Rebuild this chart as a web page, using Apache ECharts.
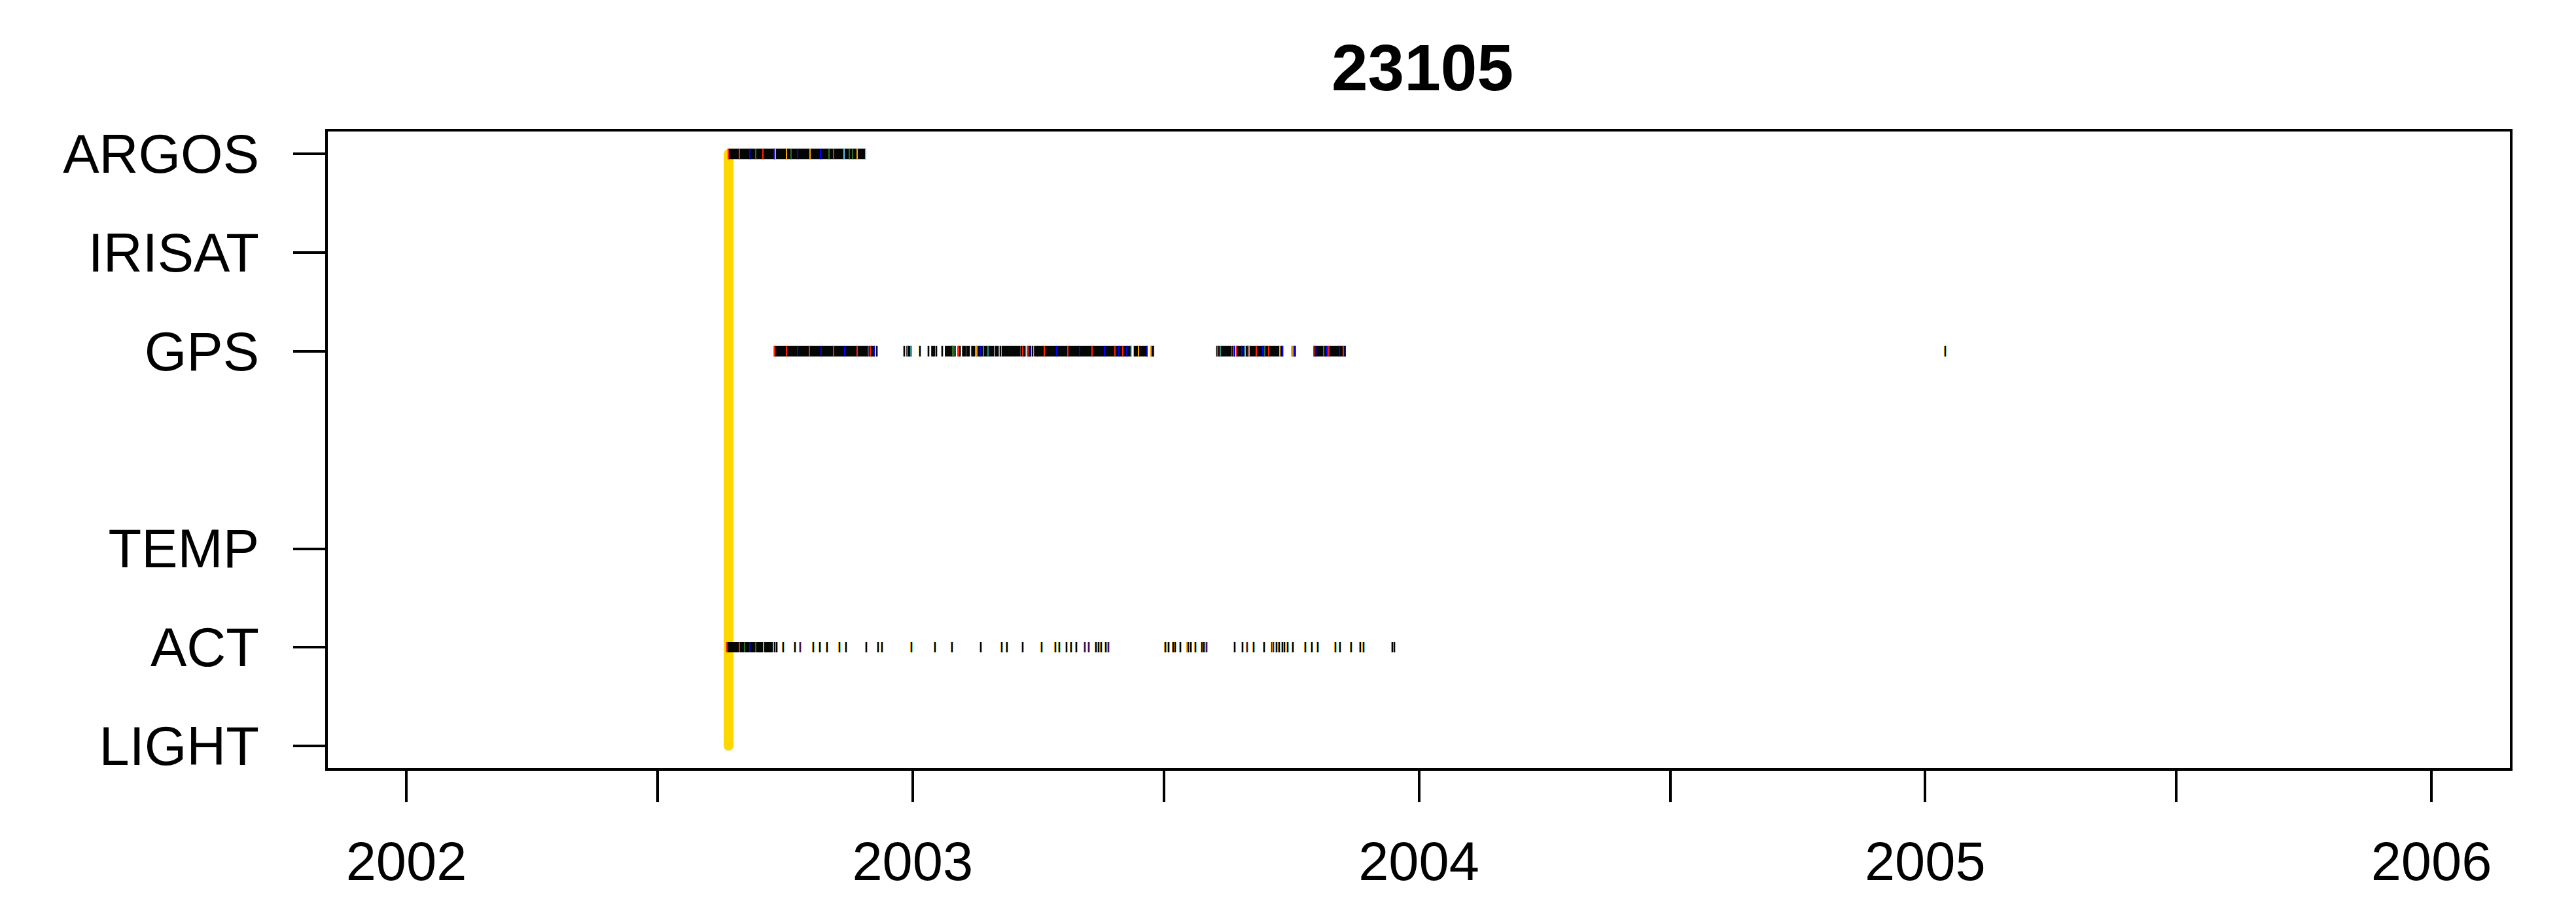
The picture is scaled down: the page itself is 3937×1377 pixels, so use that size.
<!DOCTYPE html>
<html>
<head>
<meta charset="utf-8">
<script src="https://cdn.jsdelivr.net/npm/echarts@6/dist/echarts.min.js"></script>
<style>
html,body{margin:0;padding:0;background:#fff;}
#chart{width:3937px;height:1377px;}
</style>
</head>
<body>
<div id="chart"></div>
<script>
// ---- data (decimal years) ----
const chartTitle = '23105';
const rowNames = ['LIGHT', 'ACT', 'TEMP', 'GPS', 'IRISAT', 'ARGOS'];
const rowLevels = [1, 2, 3, 5, 6, 7];
const yearLabels = [2002, 2003, 2004, 2005, 2006];
const tickYears = [2002, 2002.496, 2003, 2003.496, 2004, 2004.496, 2005, 2005.496, 2006];
const deployDate = 2002.6365;

// ARGOS (level 7)
const argosSpans = [[2002.636, 2002.907]];
const argosAccents = [
  [2002.636, 'r'], [2002.658, 'r'], [2002.679, 'b'], [2002.704, 'r'], [2002.726, 'b'],
  [2002.729, 'o'], [2002.751, 'o'], [2002.773, 'b'], [2002.798, 'o'], [2002.818, 'b'],
  [2002.844, 'r'], [2002.865, 'c'], [2002.890, 'o'], [2002.907, 'c'],
  [2002.690, 'g'], [2002.760, 'g'], [2002.835, 'g'], [2002.875, 'g'], [2002.882, 'g']
];

// GPS (level 5)
const gpsSpans = [
  [2002.727, 2002.912], [2002.915, 2002.924], [2002.989, 2002.997], [2003.038, 2003.043],
  [2003.065, 2003.076], [2003.077, 2003.084], [2003.090, 2003.094], [2003.099, 2003.104],
  [2003.107, 2003.112], [2003.117, 2003.122], [2003.126, 2003.160], [2003.164, 2003.169],
  [2003.177, 2003.201], [2003.203, 2003.211], [2003.214, 2003.222], [2003.227, 2003.233],
  [2003.241, 2003.246], [2003.247, 2003.295], [2003.297, 2003.304], [2003.306, 2003.432],
  [2003.438, 2003.463], [2003.471, 2003.476], [2003.601, 2003.629], [2003.632, 2003.636],
  [2003.640, 2003.652], [2003.654, 2003.662], [2003.665, 2003.693], [2003.695, 2003.731],
  [2003.750, 2003.756], [2003.793, 2003.818], [2003.821, 2003.849], [2003.851, 2003.854]
];
const gpsTicks = [
  [2002.929, 'k'], [2002.984, 'k'], [2003.015, 'k'], [2003.031, 'k'], [2003.047, 'k'],
  [2003.058, 'k'], [2003.174, 'k'], [2003.237, 'k'], [2005.040, 'k']
];
const gpsAccents = [
  [2002.727, 'r'], [2002.751, 'r'], [2002.773, 'b'], [2002.796, 'r'], [2002.819, 'b'],
  [2002.844, 'r'], [2002.866, 'b'], [2002.890, 'r'], [2002.911, 'b'], [2002.916, 'r'],
  [2002.924, 'b'], [2002.990, 'r'], [2002.996, 't'], [2003.079, 'g'], [2003.082, 'g'],
  [2003.091, 'r'], [2003.127, 'o'], [2003.134, 'b'], [2003.140, 't'], [2003.149, 't'],
  [2003.218, 'r'], [2003.228, 'r'], [2003.232, 'b'], [2003.260, 'r'], [2003.285, 'b'],
  [2003.307, 'r'], [2003.330, 'b'], [2003.354, 'r'], [2003.379, 'b'], [2003.400, 'r'],
  [2003.407, 'b'], [2003.415, 'r'], [2003.423, 'b'], [2003.432, 'c'], [2003.446, 'o'],
  [2003.463, 'b'], [2003.471, 'o'], [2003.476, 'b'], [2003.602, 'r'], [2003.608, 't'],
  [2003.633, 'r'], [2003.636, 'b'], [2003.640, 'r'], [2003.651, 'b'], [2003.657, 'c'],
  [2003.662, 'b'], [2003.665, 'o'], [2003.679, 'r'], [2003.692, 'b'], [2003.696, 'g'],
  [2003.703, 'r'], [2003.726, 'o'], [2003.731, 'b'], [2003.751, 'o'], [2003.755, 'b'],
  [2003.793, 'r'], [2003.796, 'b'], [2003.812, 'y'], [2003.817, 'b'], [2003.822, 'r'],
  [2003.843, 'b'], [2003.851, 'r'], [2003.854, 'b']
];

// ACT (level 2)
const actSpans = [[2002.633, 2002.725]];
const actAccents = [
  [2002.633, 'r'], [2002.658, 'r'], [2002.679, 'b'], [2002.705, 'o'], [2002.725, 'c'],
  [2002.668, 'g'], [2002.690, 'g']
];
const actTicks = [
  [2002.728, 'k'], [2002.732, 'k'], [2002.745, 'k'], [2002.768, 'k'], [2002.778, 'p'],
  [2002.804, 'k'], [2002.817, 'k'], [2002.831, 'k'], [2002.856, 'k'], [2002.868, 'k'],
  [2002.908, 'k'], [2002.932, 'k'], [2002.939, 'k'], [2002.998, 'k'], [2003.044, 'k'],
  [2003.078, 'k'], [2003.135, 'k'], [2003.176, 'k'], [2003.187, 'k'], [2003.218, 'k'],
  [2003.255, 'k'], [2003.282, 'k'], [2003.290, 'k'], [2003.304, 'k'], [2003.313, 'k'],
  [2003.323, 'k'], [2003.340, 'p'], [2003.348, 'p'], [2003.362, 'k'], [2003.367, 'k'],
  [2003.373, 'k'], [2003.382, 'k'], [2003.387, 'p'], [2003.499, 'k'], [2003.504, 'k'],
  [2003.506, 'k'], [2003.515, 'k'], [2003.519, 'k'], [2003.529, 'k'], [2003.543, 'k'],
  [2003.545, 'k'], [2003.550, 'k'], [2003.559, 'k'], [2003.571, 'k'], [2003.575, 'k'],
  [2003.581, 'p'], [2003.636, 'k'], [2003.652, 'k'], [2003.661, 'p'], [2003.674, 'k'],
  [2003.694, 'k'], [2003.710, 'p'], [2003.713, 'p'], [2003.719, 'k'], [2003.724, 'k'],
  [2003.730, 'k'], [2003.735, 'k'], [2003.741, 'k'], [2003.751, 'k'], [2003.776, 'k'],
  [2003.789, 'k'], [2003.800, 'k'], [2003.835, 'k'], [2003.844, 'k'], [2003.866, 'k'],
  [2003.884, 'k'], [2003.891, 'k'], [2003.948, 'k'], [2003.952, 'k']
];

// ---- styling ----
const COLORS = {
  k: '#000000', r: '#ff2200', b: '#0000ff', o: '#ffa500', c: '#5ec8f5',
  g: '#2f6b2f', p: '#4a0d4f', t: '#2a8f8f', y: '#6b6b2a'
};
const FONT = 'Liberation Sans, Arial, Helvetica, sans-serif';
const MARK_H = 16;

function withLevel(arr, level) { return arr.map(d => [d[0], d[1], level]); }

const spanData = [].concat(withLevel(argosSpans, 7), withLevel(gpsSpans, 5), withLevel(actSpans, 2));
const accentData = [].concat(withLevel(argosAccents, 7), withLevel(gpsAccents, 5), withLevel(actAccents, 2));
const tickData = [].concat(withLevel(gpsTicks, 5), withLevel(actTicks, 2));

const chart = echarts.init(document.getElementById('chart'), null, { renderer: 'canvas' });

const option = {
  animation: false,
  backgroundColor: '#ffffff',
  title: {
    text: chartTitle,
    left: 2030,
    top: 55,
    textStyle: { fontFamily: FONT, fontSize: 100, fontWeight: 'bold', color: '#000' }
  },
  grid: {
    left: 499, right: 99, top: 199, bottom: 201,
    show: true, borderColor: '#000', borderWidth: 4, backgroundColor: 'transparent'
  },
  xAxis: {
    type: 'value',
    min: 2001.8423,
    max: 2006.1577,
    splitLine: { show: false },
    axisLine: { show: false },
    axisTick: { show: true, length: 50, inside: false, customValues: tickYears,
      lineStyle: { color: '#000', width: 4 } },
    axisLabel: { show: true, customValues: yearLabels, margin: 105,
      formatter: v => String(Math.round(v)),
      fontFamily: FONT, fontSize: 83, color: '#000' }
  },
  yAxis: {
    type: 'value',
    min: 0.76,
    max: 7.24,
    splitLine: { show: false },
    axisLine: { show: false },
    axisTick: { show: true, length: 51, inside: false, customValues: rowLevels,
      lineStyle: { color: '#000', width: 4 } },
    axisLabel: { show: true, customValues: rowLevels, margin: 103,
      formatter: v => '{n|' + (rowNames[rowLevels.indexOf(Math.round(v))] || '') + '}',
      rich: { n: { fontFamily: FONT, fontSize: 83, color: '#000', padding: [12, 0, 0, 0] } },
      fontFamily: FONT, fontSize: 83, color: '#000' }
  },
  series: [
    {
      type: 'line',
      data: [[deployDate, 7], [deployDate, 1]],
      symbol: 'none',
      lineStyle: { color: '#ffd700', width: 15, cap: 'round' },
      z: 1,
      silent: true
    },
    {
      type: 'custom',
      z: 2,
      silent: true,
      data: spanData,
      encode: { x: [0, 1], y: 2 },
      renderItem: function (params, api) {
        const p1 = api.coord([api.value(0), api.value(2)]);
        const p2 = api.coord([api.value(1), api.value(2)]);
        return {
          type: 'rect',
          shape: { x: p1[0] - 1, y: p1[1] - MARK_H / 2, width: Math.max(2, p2[0] - p1[0] + 2), height: MARK_H },
          style: { fill: '#030603' }
        };
      }
    },
    {
      type: 'custom',
      z: 3,
      silent: true,
      data: accentData.map(d => [d[0], d[2], d[1]]),
      encode: { x: 0, y: 1 },
      renderItem: function (params, api) {
        const d = accentData[params.dataIndex];
        const p = api.coord([d[0], d[2]]);
        return {
          type: 'rect',
          shape: { x: Math.round(p[0]) - 1, y: p[1] - MARK_H / 2, width: 2, height: MARK_H },
          style: { fill: COLORS[d[1]] }
        };
      }
    },
    {
      type: 'custom',
      z: 3,
      silent: true,
      data: tickData.map(d => [d[0], d[2], d[1]]),
      encode: { x: 0, y: 1 },
      renderItem: function (params, api) {
        const d = tickData[params.dataIndex];
        const p = api.coord([d[0], d[2]]);
        const x0 = Math.round(p[0]);
        const y0 = p[1] - MARK_H / 2;
        return {
          type: 'group',
          children: [
            { type: 'rect', shape: { x: x0 - 2, y: y0, width: 1, height: MARK_H }, style: { fill: COLORS.o } },
            { type: 'rect', shape: { x: x0 - 1, y: y0, width: 2, height: MARK_H }, style: { fill: COLORS[d[1]] } },
            { type: 'rect', shape: { x: x0 + 1, y: y0, width: 1, height: MARK_H }, style: { fill: COLORS.c } }
          ]
        };
      }
    }
  ]
};
chart.setOption(option);
</script>
</body>
</html>
